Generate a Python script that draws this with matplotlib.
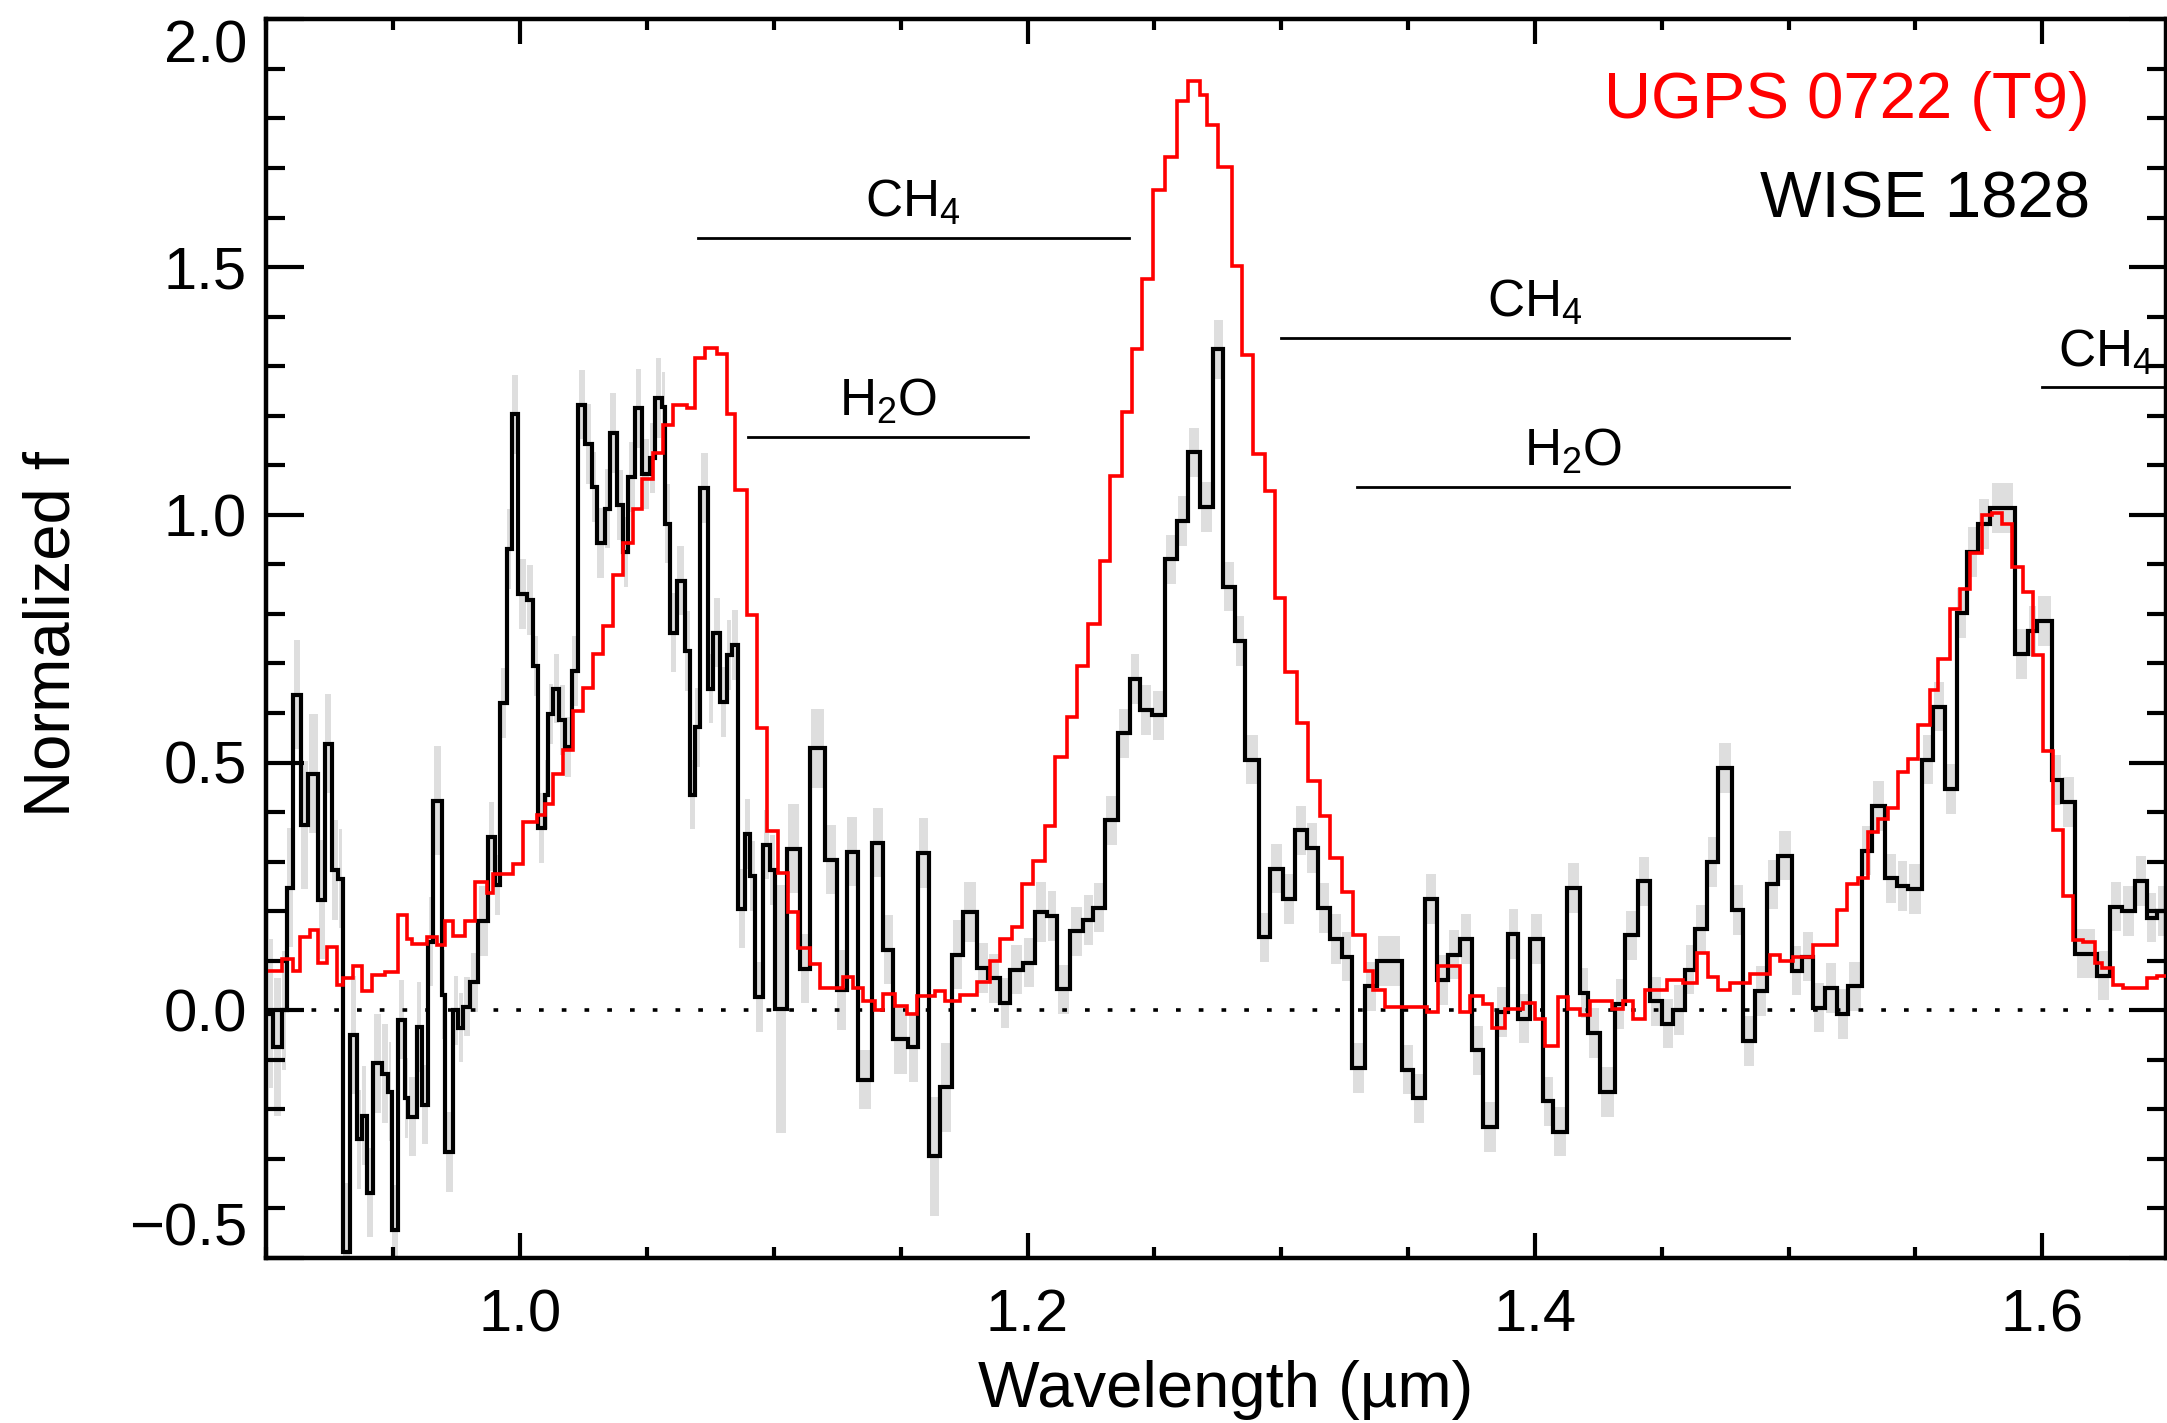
import numpy as np
import matplotlib.pyplot as plt
from matplotlib.ticker import MultipleLocator, FuncFormatter

plt.rcParams['font.family'] = ['Liberation Sans', 'DejaVu Sans']
plt.rcParams['mathtext.fontset'] = 'custom'
plt.rcParams['mathtext.rm'] = 'Liberation Sans'
plt.rcParams['mathtext.it'] = 'Liberation Sans'
plt.rcParams['mathtext.default'] = 'regular'

# WISE 1828 binned spectrum: bin edges (um), normalized flux, 1-sigma errors
wise_edges = [
    0.9008, 0.9027, 0.9060, 0.9080, 0.9106, 0.9135, 0.9165, 0.9205, 0.9231, 0.9257,
    0.9284, 0.9301, 0.9330, 0.9356, 0.9376, 0.9395, 0.9422, 0.9454, 0.9481, 0.9494,
    0.9520, 0.9546, 0.9560, 0.9592, 0.9612, 0.9638, 0.9658, 0.9691, 0.9704, 0.9737,
    0.9757, 0.9776, 0.9803, 0.9835, 0.9875, 0.9901, 0.9921, 0.9947, 0.9967, 0.9993,
    1.0026, 1.0052, 1.0072, 1.0098, 1.0111, 1.0131, 1.0155, 1.0177, 1.0203, 1.0230,
    1.0256, 1.0282, 1.0302, 1.0335, 1.0354, 1.0381, 1.0407, 1.0427, 1.0453, 1.0479,
    1.0512, 1.0532, 1.0558, 1.0571, 1.0591, 1.0617, 1.0650, 1.0670, 1.0689, 1.0709,
    1.0742, 1.0762, 1.0788, 1.0814, 1.0834, 1.0860, 1.0887, 1.0906, 1.0926, 1.0959,
    1.0985, 1.1005, 1.1051, 1.1103, 1.1143, 1.1202, 1.1248, 1.1287, 1.1333, 1.1386,
    1.1432, 1.1471, 1.1530, 1.1570, 1.1612, 1.1655, 1.1701, 1.1747, 1.1800, 1.1846,
    1.1892, 1.1931, 1.1984, 1.2030, 1.2076, 1.2115, 1.2168, 1.2220, 1.2260, 1.2306,
    1.2358, 1.2404, 1.2444, 1.2490, 1.2542, 1.2588, 1.2634, 1.2680, 1.2733, 1.2772,
    1.2818, 1.2857, 1.2913, 1.2956, 1.3008, 1.3054, 1.3100, 1.3146, 1.3192, 1.3238,
    1.3278, 1.3330, 1.3376, 1.3475, 1.3521, 1.3567, 1.3613, 1.3659, 1.3705, 1.3751,
    1.3797, 1.3849, 1.3895, 1.3935, 1.3981, 1.4033, 1.4073, 1.4125, 1.4178, 1.4211,
    1.4257, 1.4316, 1.4355, 1.4408, 1.4454, 1.4500, 1.4546, 1.4592, 1.4631, 1.4677,
    1.4723, 1.4776, 1.4822, 1.4868, 1.4914, 1.4960, 1.5012, 1.5052, 1.5098, 1.5144,
    1.5190, 1.5236, 1.5288, 1.5328, 1.5380, 1.5426, 1.5472, 1.5525, 1.5571, 1.5617,
    1.5662, 1.5702, 1.5748, 1.5794, 1.5892, 1.5945, 1.5978, 1.6037, 1.6076, 1.6129,
    1.6214, 1.6267, 1.6313, 1.6365, 1.6411, 1.6451, 1.6500,
]
wise_flux = [
    -0.007, -0.074, 0.000, 0.247, 0.637, 0.374, 0.477, 0.223, 0.538, 0.283,
    0.265, -0.488, -0.050, -0.261, -0.213, -0.368, -0.107, -0.128, -0.165, -0.443,
    -0.019, -0.177, -0.215, -0.034, -0.191, 0.138, 0.423, 0.031, -0.286, 0.000,
    -0.035, 0.007, 0.056, 0.180, 0.350, 0.253, 0.620, 0.931, 1.203, 0.840,
    0.828, 0.695, 0.368, 0.435, 0.598, 0.649, 0.586, 0.531, 0.685, 1.222,
    1.143, 1.056, 0.943, 1.012, 1.165, 1.020, 0.925, 1.076, 1.215, 1.082,
    1.115, 1.236, 1.218, 0.982, 0.762, 0.867, 0.725, 0.435, 0.571, 1.054,
    0.649, 0.762, 0.622, 0.717, 0.737, 0.205, 0.356, 0.271, 0.027, 0.334,
    0.283, 0.002, 0.326, 0.084, 0.529, 0.304, 0.041, 0.320, -0.140, 0.338,
    0.122, -0.059, -0.074, 0.317, -0.295, -0.156, 0.112, 0.198, 0.085, 0.064,
    0.014, 0.082, 0.096, 0.198, 0.190, 0.042, 0.159, 0.182, 0.207, 0.383,
    0.559, 0.669, 0.606, 0.595, 0.910, 0.988, 1.126, 1.016, 1.334, 0.855,
    0.745, 0.506, 0.147, 0.286, 0.224, 0.363, 0.327, 0.206, 0.144, 0.108,
    -0.117, 0.048, 0.099, -0.120, -0.178, 0.224, 0.061, 0.112, 0.144, -0.081,
    -0.236, -0.004, 0.154, -0.017, 0.144, -0.184, -0.245, 0.247, 0.035, -0.046,
    -0.165, 0.013, 0.151, 0.260, 0.018, -0.027, 0.000, 0.082, 0.163, 0.299,
    0.489, 0.202, -0.062, 0.039, 0.254, 0.312, 0.080, 0.108, 0.005, 0.045,
    -0.008, 0.048, 0.322, 0.412, 0.266, 0.251, 0.245, 0.506, 0.613, 0.446,
    0.802, 0.925, 0.981, 1.014, 0.719, 0.765, 0.786, 0.465, 0.420, 0.114,
    0.070, 0.209, 0.200, 0.261, 0.187, 0.200,
]
wise_err = [
    0.15, 0.14, 0.12, 0.12, 0.11, 0.13, 0.12, 0.12, 0.10, 0.10,
    0.10, 0.14, 0.12, 0.10, 0.10, 0.09, 0.10, 0.10, 0.10, 0.09,
    0.08, 0.08, 0.08, 0.09, 0.08, 0.09, 0.11, 0.09, 0.08, 0.07,
    0.07, 0.06, 0.06, 0.07, 0.07, 0.06, 0.07, 0.08, 0.08, 0.07,
    0.07, 0.06, 0.07, 0.07, 0.06, 0.07, 0.07, 0.06, 0.07, 0.07,
    0.08, 0.07, 0.07, 0.08, 0.08, 0.07, 0.07, 0.07, 0.08, 0.07,
    0.07, 0.08, 0.07, 0.08, 0.08, 0.07, 0.08, 0.07, 0.08, 0.07,
    0.07, 0.07, 0.07, 0.07, 0.07, 0.08, 0.07, 0.07, 0.07, 0.07,
    0.07, 0.25, 0.09, 0.07, 0.08, 0.07, 0.08, 0.07, 0.06, 0.07,
    0.07, 0.07, 0.07, 0.07, 0.12, 0.09, 0.07, 0.06, 0.05, 0.05,
    0.05, 0.05, 0.05, 0.06, 0.05, 0.05, 0.05, 0.05, 0.05, 0.05,
    0.05, 0.05, 0.05, 0.05, 0.05, 0.05, 0.05, 0.05, 0.06, 0.05,
    0.05, 0.05, 0.05, 0.05, 0.05, 0.05, 0.05, 0.05, 0.05, 0.05,
    0.05, 0.05, 0.05, 0.05, 0.05, 0.05, 0.05, 0.05, 0.05, 0.05,
    0.05, 0.05, 0.05, 0.05, 0.05, 0.05, 0.05, 0.05, 0.05, 0.05,
    0.05, 0.05, 0.05, 0.05, 0.05, 0.05, 0.05, 0.05, 0.05, 0.05,
    0.05, 0.05, 0.05, 0.05, 0.05, 0.05, 0.05, 0.05, 0.05, 0.05,
    0.05, 0.05, 0.05, 0.05, 0.05, 0.05, 0.05, 0.05, 0.05, 0.05,
    0.05, 0.05, 0.05, 0.05, 0.05, 0.05, 0.05, 0.05, 0.05, 0.05,
    0.05, 0.05, 0.05, 0.05, 0.05, 0.05,
]

# UGPS 0722 (T9) comparison spectrum
ugps_edges = [
    0.9008, 0.9060, 0.9106, 0.9132, 0.9172, 0.9205, 0.9238, 0.9277, 0.9303, 0.9343,
    0.9376, 0.9415, 0.9467, 0.9520, 0.9553, 0.9573, 0.9632, 0.9671, 0.9704, 0.9737,
    0.9783, 0.9822, 0.9868, 0.9894, 0.9973, 1.0013, 1.0065, 1.0098, 1.0131, 1.0170,
    1.0210, 1.0249, 1.0289, 1.0328, 1.0368, 1.0407, 1.0446, 1.0479, 1.0525, 1.0565,
    1.0604, 1.0657, 1.0689, 1.0729, 1.0775, 1.0814, 1.0847, 1.0893, 1.0932, 1.0972,
    1.1018, 1.1057, 1.1097, 1.1143, 1.1182, 1.1274, 1.1313, 1.1353, 1.1399, 1.1432,
    1.1478, 1.1524, 1.1563, 1.1635, 1.1675, 1.1734, 1.1800, 1.1852, 1.1892, 1.1938,
    1.1977, 1.2023, 1.2069, 1.2109, 1.2154, 1.2194, 1.2240, 1.2286, 1.2325, 1.2371,
    1.2411, 1.2450, 1.2496, 1.2542, 1.2588, 1.2634, 1.2680, 1.2706, 1.2752, 1.2805,
    1.2844, 1.2887, 1.2936, 1.2976, 1.3015, 1.3061, 1.3107, 1.3153, 1.3192, 1.3238,
    1.3284, 1.3330, 1.3363, 1.3409, 1.3573, 1.3619, 1.3705, 1.3744, 1.3797, 1.3830,
    1.3882, 1.3954, 1.4000, 1.4039, 1.4092, 1.4132, 1.4178, 1.4217, 1.4303, 1.4349,
    1.4388, 1.4434, 1.4519, 1.4585, 1.4638, 1.4684, 1.4723, 1.4769, 1.4848, 1.4927,
    1.4966, 1.5019, 1.5098, 1.5190, 1.5229, 1.5275, 1.5314, 1.5354, 1.5393, 1.5432,
    1.5472, 1.5511, 1.5557, 1.5590, 1.5636, 1.5676, 1.5715, 1.5761, 1.5800, 1.5840,
    1.5879, 1.5925, 1.5965, 1.6001, 1.6041, 1.6083, 1.6122, 1.6162, 1.6208, 1.6234,
    1.6280, 1.6319, 1.6411, 1.6451, 1.6500,
]
ugps_flux = [
    0.080, 0.104, 0.080, 0.148, 0.162, 0.096, 0.128, 0.050, 0.065, 0.090,
    0.038, 0.071, 0.078, 0.192, 0.144, 0.134, 0.148, 0.132, 0.180, 0.150,
    0.180, 0.259, 0.237, 0.274, 0.295, 0.380, 0.395, 0.416, 0.477, 0.525,
    0.604, 0.650, 0.720, 0.776, 0.879, 0.943, 1.012, 1.073, 1.125, 1.182,
    1.222, 1.216, 1.316, 1.337, 1.325, 1.203, 1.050, 0.798, 0.570, 0.362,
    0.277, 0.199, 0.126, 0.093, 0.044, 0.068, 0.044, 0.019, 0.000, 0.033,
    0.008, -0.007, 0.028, 0.038, 0.019, 0.030, 0.057, 0.100, 0.143, 0.167,
    0.254, 0.302, 0.371, 0.512, 0.591, 0.694, 0.779, 0.906, 1.079, 1.208,
    1.334, 1.475, 1.656, 1.722, 1.836, 1.876, 1.847, 1.786, 1.703, 1.502,
    1.323, 1.122, 1.048, 0.833, 0.682, 0.579, 0.463, 0.391, 0.308, 0.238,
    0.151, 0.080, 0.041, 0.007, -0.004, 0.090, -0.004, 0.028, 0.012, -0.036,
    0.003, 0.015, -0.017, -0.072, 0.026, 0.003, -0.009, 0.018, 0.003, 0.018,
    -0.017, 0.041, 0.060, 0.054, 0.116, 0.067, 0.041, 0.054, 0.073, 0.112,
    0.099, 0.108, 0.131, 0.202, 0.255, 0.266, 0.360, 0.385, 0.408, 0.481,
    0.508, 0.575, 0.646, 0.709, 0.809, 0.850, 0.922, 1.000, 1.004, 0.981,
    0.894, 0.845, 0.717, 0.523, 0.364, 0.230, 0.142, 0.137, 0.096, 0.086,
    0.050, 0.044, 0.065, 0.070,
]

# absorption band markers
band_names = ['CH$_4$', 'H$_2$O', 'CH$_4$', 'H$_2$O', 'CH$_4$']
band_lo = [1.07, 1.09, 1.30, 1.33, 1.60]
band_hi = [1.24, 1.20, 1.50, 1.50, 1.65]
band_level = [1.559, 1.158, 1.357, 1.056, 1.257]

fig = plt.figure(figsize=(2167 / 200, 1423 / 200), dpi=200)
ax = fig.add_axes([266.4 / 2167, 1 - 1257.9 / 1423, 1899.6 / 2167, 1238.5 / 1423])

edges = np.array(wise_edges)
flux = np.array(wise_flux)
err = np.array(wise_err)
mid = 0.5 * (edges[:-1] + edges[1:])
width = np.diff(edges)

# error bars as light grey boxes behind the binned spectrum
ax.bar(mid, 2 * err, width=0.85 * width, bottom=flux - err,
       color='#dedede', linewidth=0, zorder=1)
ax.axhline(0, color='k', lw=1.3, ls=(0, (1.3, 5)), zorder=2)
ax.stairs(flux, edges, baseline=None, color='k', lw=1.5, zorder=3)
ax.stairs(ugps_flux, ugps_edges, baseline=None, color='red', lw=1.3, zorder=4)

for name, lo, hi, lev in zip(band_names, band_lo, band_hi, band_level):
    ax.plot([lo, hi], [lev, lev], color='k', lw=1.0, zorder=3)
    ax.text(0.5 * (lo + hi), lev + 0.043, name, ha='center', va='baseline',
            fontsize=18.5)

ax.text(0.960, 0.9206, 'UGPS 0722 (T9)', color='red', ha='right',
        va='baseline', fontsize=23.5, transform=ax.transAxes)
ax.text(0.960, 0.8402, 'WISE 1828', color='k', ha='right',
        va='baseline', fontsize=23.5, transform=ax.transAxes)

ax.set_xlim(0.9, 0.9 + 1899.6 / 2537)
ax.set_ylim(-0.5, 2.0)

fmt = FuncFormatter(lambda v, pos: ('%.1f' % v).replace('-', '\u2212'))
ax.set_xticks([1.0, 1.2, 1.4, 1.6])
ax.xaxis.set_minor_locator(MultipleLocator(0.05))
ax.set_yticks([-0.5, 0.0, 0.5, 1.0, 1.5, 2.0])
ax.yaxis.set_minor_locator(MultipleLocator(0.1))
ax.xaxis.set_major_formatter(fmt)
ax.yaxis.set_major_formatter(fmt)

ax.tick_params(which='both', direction='in', top=True, right=True, width=1.5,
               labelsize=21.5)
ax.tick_params(axis='x', which='major', length=9, pad=11)
ax.tick_params(axis='x', which='minor', length=3.8)
ax.tick_params(axis='y', which='major', length=13.5, pad=7)
ax.tick_params(axis='y', which='minor', length=6.8)
for s in ax.spines.values():
    s.set_linewidth(1.6)

ylabels = ax.get_yticklabels()
ylabels[0].set_va('bottom')
ylabels[-1].set_va('top')

fig.text(0.5657, 0.0112, 'Wavelength (\u00b5m)', ha='center', va='baseline',
         fontsize=23.5)
fig.text(70 / 2167, 1 - 634 / 1423, 'Normalized f', rotation=90,
         rotation_mode='anchor', ha='center', va='baseline', fontsize=23.5)

fig.savefig('out.png', dpi=200)
